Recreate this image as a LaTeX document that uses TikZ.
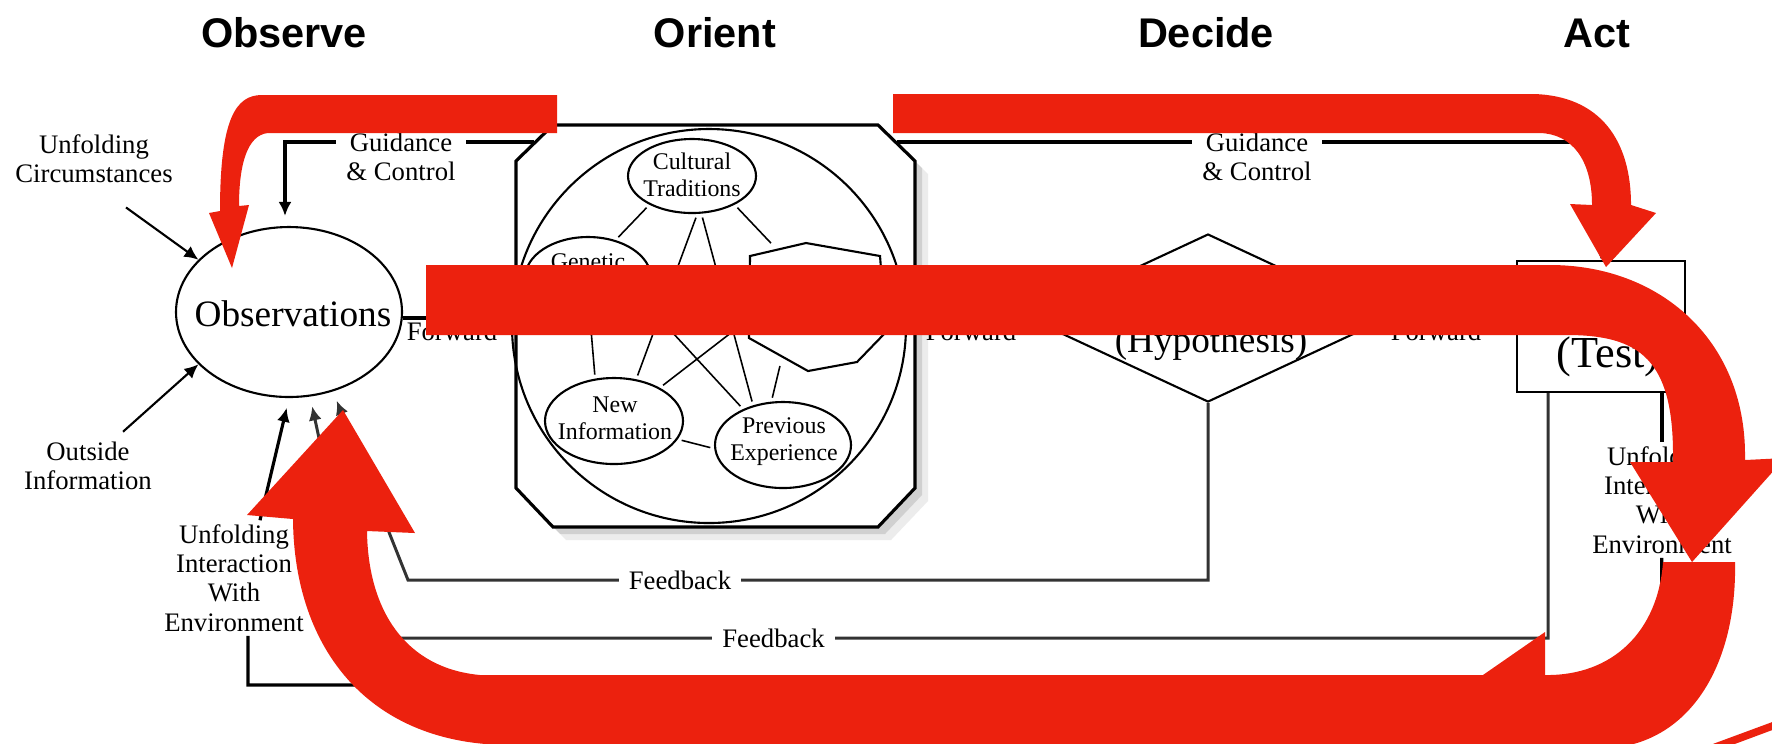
\documentclass[tikz,border=0pt]{standalone}
\usepackage{fontspec}
\setmainfont{Liberation Serif}
\newfontfamily\headfont{Liberation Sans}
\usetikzlibrary{arrows.meta,shapes.geometric,shadows}
\definecolor{loopred}{RGB}{236,33,14}

\tikzset{
  phase/.style={font=\headfont\bfseries\fontsize{11.8}{14}\selectfont, anchor=base},
  txt/.style={font=\fontsize{7.6}{8.35}\selectfont, align=center, inner sep=1pt},
  smalltxt/.style={font=\fontsize{6.8}{7.7}\selectfont, align=center, inner sep=0.5pt},
  bigtxt/.style={font=\fontsize{10.6}{12.5}\selectfont, anchor=base, inner sep=0pt},
  bubble/.style={ellipse, draw, line width=0.6pt, inner sep=0pt},
  link/.style={line width=0.45pt, shorten <=0.4mm, shorten >=0.4mm},
  guide/.style={line width=1.1pt},
  fback/.style={line width=0.85pt, draw=black!80},
  envline/.style={line width=0.9pt},
  arr/.style={-{Latex[length=1.4mm,width=1.3mm]}},
  gap/.style={fill=white, inner xsep=1mm, inner ysep=0.5pt},
  redloop/.style={fill=loopred}
}

\begin{document}
\begin{tikzpicture}[x=0.1mm,y=-0.1mm]
\useasboundingbox (0,0) rectangle (1772,743);
\fill[white] (0,0) rectangle (1772,743);

% phase titles
\node[phase] (tobs) at (284,47) {Observe};
\node[phase] (tori) at (715,47) {Orient};
\node[phase] (tdec) at (1206,47) {Decide};
\node[phase] (tact) at (1597,47) {Act};

% observe
\node[bubble, minimum width=22.6mm, minimum height=17mm] (obs) at (289,312) {};
\node[bigtxt] (obsT) at (293,326) {Observations};
\node[txt] (circ) at (94,159) {Unfolding\\Circumstances};
\node[txt] (outs) at (88,466) {Outside\\Information};
\node[txt] (envL) at (234,578) {Unfolding\\Interaction\\With\\Environment};
\draw[arr, line width=0.6pt] ([xshift=3.2mm,yshift=-2mm]circ.south) -- (obs.150);
\draw[arr, line width=0.6pt] ([xshift=3.5mm,yshift=0.6mm]outs.north) -- (obs.210);

% orient
\draw[line width=0.9pt, fill=white,
  drop shadow={shadow xshift=1.3mm, shadow yshift=-1.3mm, opacity=0.15},
  drop shadow={shadow xshift=0.7mm, shadow yshift=-0.7mm, opacity=0.25}]
  (516,161) -- (553,125) -- (878,125) -- (915,161) -- (915,488)
  -- (878,527) -- (553,527) -- (516,488) -- cycle;
\node[minimum width=39.9mm, minimum height=40.2mm, inner sep=0pt] (orient) at (715.5,326) {};
\node[circle, draw, line width=0.6pt, minimum size=39.4mm, inner sep=0pt] (world) at (709,326) {};

\node[bubble, minimum width=12.8mm, minimum height=7.4mm] (cult) at (692,176) {};
\node[smalltxt] (cultT) at (692,175) {Cultural\\Traditions};
\node[bubble, minimum width=12.6mm, minimum height=8.2mm] (gen) at (588,278) {};
\node[smalltxt, anchor=base] (genT) at (588,269) {Genetic};
\node[bubble, minimum width=13.8mm, minimum height=8.6mm] (new) at (614,421) {};
\node[smalltxt] (newT) at (615,418) {New\\Information};
\node[bubble, minimum width=13.6mm, minimum height=8.6mm] (prev) at (783,445) {};
\node[smalltxt] (prevT) at (784,442) {Previous\\Experience};
\draw[line width=0.6pt] (750,256) -- (806,243) -- (880,256) -- (886,332)
  -- (857,362) -- (808,371) -- (749,338) -- cycle;
\node[ellipse, minimum width=14mm, minimum height=12.8mm, inner sep=0pt] (ana) at (818,307) {};

\draw[link] (cult.214) -- (gen.54);
\draw[link] (cult.-82) -- (new.62);
\draw[link] (cult.-76) -- (prev.127);
\draw[link, shorten >=1.3mm] (cult.-34) -- (ana.125);
\draw[link] (gen.-87) -- (new.114);
\draw[link] (gen.-22) -- (prev.138);
\draw[link] (new.36) -- (ana.190);
\draw[link] (ana.-124) -- (prev.105);
\draw[link] (new.-16) -- (prev.183);

% decide and act
\node[diamond, draw, line width=0.6pt, minimum width=36mm, minimum height=16.8mm, inner sep=0pt] (dec) at (1208,318) {};
\node[bigtxt] (decT) at (1211,352) {(Hypothesis)};
\node[draw, line width=0.6pt, minimum width=16.8mm, minimum height=13.1mm, inner sep=0pt] (act) at (1601,326.5) {};
\node[bigtxt, anchor=base west, font=\fontsize{12.6}{14}\selectfont] (actT) at (1556,367) {(Test)};
\node[txt] (envR) at (1662,500) {Unfolding\\Interaction\\With\\Environment};

% feed forward
\draw[guide, arr] (obs.-3) -- (obs.-3 -| orient.west);
\draw[guide, arr] (orient.east |- dec.west) -- (dec.west);
\draw[guide, arr] (dec.east) -- (dec.east -| act.west);
\node[txt, anchor=base] (fw1) at (452,340) {Forward};
\node[txt, anchor=base] (fw2) at (971,340) {Forward};
\node[txt, anchor=base] (fw3) at (1436,340) {Forward};

% guidance and control
\coordinate (gcL) at (534,142);
\coordinate (gcLc) at (285,142);
\coordinate (gcR) at (897,142);
\coordinate (gcRc) at (1601,142);
\draw[guide, arr, shorten >=1mm] (gcL) -- (gcLc) -- (gcLc |- obs.north);
\draw[guide, arr] (gcR) -- (gcRc) -- (gcRc |- act.north);
\node[txt, gap] (gcLT) at (401,157) {Guidance\\\& Control};
\node[txt, gap] (gcRT) at (1257,157) {Guidance\\\& Control};

% feedback
\coordinate (fbA) at (1208,580);
\coordinate (fbB) at (408,580);
\draw[fback, arr, shorten >=1mm] (dec.south) -- (fbA)
  -- node[txt, gap, pos=0.66] (fbT1) {Feedback} (fbB) -- (obs.-61);
\coordinate (fcA) at (1548,638);
\coordinate (fcB) at (362,638);
\draw[fback, arr, shorten >=1mm] (act.south -| fcA) -- (fcA)
  -- node[txt, gap, pos=0.653] (fbT2) {Feedback} (fcB) -- (obs.-76);

% unfolding interaction with environment
\coordinate (ueA) at (1661,685);
\coordinate (ueB) at (248,685);
\draw[envline] (act.south -| envR) -- (envR);
\draw[envline] (envR) -- (ueA) -- (ueB) -- (ueB |- envL.south);
\draw[envline, arr, shorten >=1mm] ([xshift=2.6mm]envL.north) -- (obs.-90);

% red loop arrows
\fill[redloop] (557,95) -- (262,95) .. controls (236,95) and (220,118) .. (220,211)
  -- (209,213) -- (232,268) -- (249,205) -- (239,206)
  .. controls (239,165) and (247,135) .. (268,133) -- (557,133) -- cycle;
\fill[redloop] (893,94) -- (1534,94) .. controls (1600,96) and (1631,140) .. (1631,205)
  -- (1656,213) -- (1606,267) -- (1570,204) -- (1592,205)
  .. controls (1592,160) and (1572,134) .. (1540,133) -- (893,133) -- cycle;
\fill[redloop] (426,265) -- (1550,265) .. controls (1660,265) and (1745,340) .. (1745,455)
  -- (1745,460) -- (1785,458) -- (1692,562) -- (1630,462) -- (1673,462) -- (1673,455)
  .. controls (1673,360) and (1640,335) .. (1567,335) -- (426,335) -- cycle;
\fill[redloop] (1560,675) -- (480,675) .. controls (405,668) and (368,610) .. (367,531)
  -- (415,533) -- (343,410) -- (247,515) -- (293,519)
  .. controls (294,650) and (370,745) .. (510,745) -- (1560,745) -- cycle;
\fill[redloop] (1663,562) -- (1735,562) .. controls (1737,665) and (1690,742) .. (1610,748)
  -- (1545,748) -- (1545,790) -- (1431,711) -- (1545,632) -- (1545,675)
  .. controls (1612,676) and (1658,632) .. (1663,562) -- cycle;
\fill[redloop] (1710,745) -- (1775,721) -- (1775,729) -- (1732,745) -- cycle;
\end{tikzpicture}
\end{document}
